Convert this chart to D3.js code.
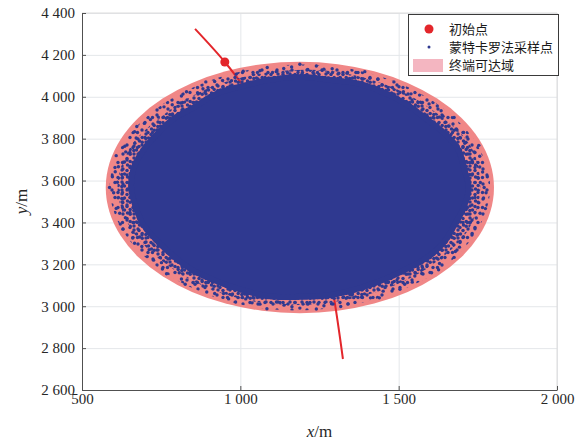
<!DOCTYPE html>
<html>
<head>
<meta charset="utf-8">
<script src="https://cdn.jsdelivr.net/npm/d3@7/dist/d3.min.js"></script>
<style>
  body { margin: 0; background: #fff; }
  svg text { font-family: "Liberation Serif", "Times New Roman", serif; }
</style>
</head>
<body>
<div id="chart"></div>
<script>
// axis ticks
var xTicks = [500, 1000, 1500, 2000]
var xTickLabels = ["500", "1 000", "1 500", "2 000"]
var yTicks = [2600, 2800, 3000, 3200, 3400, 3600, 3800, 4000, 4200, 4400]
var yTickLabels = ["2 600", "2 800", "3 000", "3 200", "3 400", "3 600", "3 800", "4 000", "4 200", "4 400"]

// terminal reachable region (ellipse), metres
var reachCenter = [1188, 3567]
var reachSemiAxes = [613, 600]

// initial point and nominal trajectory (visible parts)
var initPoint = [951, 4166]
var trajectory = [[857, 4324], [951, 4166], [1020, 4030], [1289, 3100], [1300, 3000], [1324, 2748]]

// Monte Carlo cloud: outer reach of scattered samples, sparse band, dense core
var cloudOuter = [
  [1789, 3567], [1750, 3767], [1644, 3941], [1487, 4074], [1292, 4146], [1084, 4143],
  [891, 4071], [733, 3941], [626, 3767], [587, 3567], [626, 3367], [732, 3193],
  [889, 3060], [1084, 2988], [1292, 2991], [1485, 3063], [1646, 3191], [1750, 3367]
]
var cloudMid = [
  [1758, 3567], [1729, 3760], [1620, 3922], [1473, 4050], [1288, 4122], [1089, 4117],
  [906, 4045], [761, 3918], [652, 3758], [612, 3567], [652, 3376], [756, 3212],
  [903, 3084], [1088, 3012], [1287, 3018], [1470, 3089], [1620, 3212], [1724, 3376]
]
var cloudCore = [
  [1721, 3567], [1707, 3657], [1689, 3746], [1645, 3825], [1587, 3895], [1527, 3962],
  [1455, 4019], [1372, 4063], [1281, 4081], [1188, 4095], [1095, 4081], [1008, 4052],
  [924, 4014], [857, 3953], [789, 3895], [737, 3822], [693, 3744], [663, 3658],
  [655, 3567], [669, 3477], [693, 3391], [737, 3312], [789, 3239], [849, 3172],
  [924, 3120], [1006, 3077], [1094, 3047], [1188, 3045], [1281, 3053], [1368, 3082],
  [1449, 3125], [1523, 3176], [1592, 3235], [1645, 3309], [1678, 3393], [1707, 3477]
]

// loose samples near the edge of the cloud
var edgeSamples = [
  [1770, 3567], [1780, 3618], [1756, 3665], [1756, 3716], [1753, 3768], [1716, 3808],
  [1682, 3846], [1675, 3901], [1634, 3933], [1596, 3966], [1566, 4008], [1515, 4024],
  [1485, 4071], [1434, 4084], [1393, 4120], [1337, 4112], [1290, 4134], [1240, 4147],
  [1188, 4155], [1137, 4135], [1085, 4140], [1041, 4106], [987, 4108], [944, 4078],
  [891, 4071], [865, 4019], [814, 4004], [785, 3962], [737, 3937], [716, 3891],
  [673, 3858], [671, 3803], [635, 3764], [608, 3719], [615, 3666], [596, 3618],
  [587, 3567], [614, 3518], [608, 3467], [637, 3423], [629, 3368], [660, 3326],
  [689, 3285], [706, 3237], [751, 3208], [767, 3155], [814, 3130], [857, 3105],
  [894, 3068], [947, 3061], [985, 3020], [1037, 3016], [1084, 2988], [1138, 3005],
  [1188, 2991], [1240, 2987], [1288, 3012], [1340, 3011], [1383, 3043], [1439, 3040],
  [1479, 3073], [1519, 3105], [1551, 3144], [1604, 3160], [1629, 3204], [1675, 3233],
  [1692, 3282], [1705, 3331], [1741, 3370], [1745, 3421], [1774, 3466], [1768, 3517],
  [1758, 3591], [1765, 3641], [1733, 3685], [1738, 3737], [1709, 3778], [1705, 3830],
  [1659, 3860], [1640, 3907], [1622, 3956], [1569, 3974], [1539, 4014], [1501, 4048],
  [1448, 4057], [1409, 4088], [1365, 4116], [1311, 4112], [1264, 4132], [1213, 4130],
  [1162, 4142], [1114, 4120], [1062, 4124], [1009, 4122], [972, 4077], [919, 4073],
  [882, 4038], [830, 4024], [811, 3970], [759, 3952], [741, 3903], [697, 3873],
  [666, 3833], [667, 3778], [638, 3737], [631, 3688], [605, 3642], [612, 3592],
  [600, 3542], [629, 3495], [619, 3444], [621, 3392], [661, 3353], [666, 3301],
  [712, 3270], [726, 3220], [754, 3178], [807, 3160], [826, 3105], [882, 3096],
  [919, 3061], [963, 3035], [1017, 3035], [1062, 3010], [1114, 3020], [1163, 2998],
  [1213, 3010], [1264, 3002], [1317, 2999], [1358, 3041], [1411, 3040], [1451, 3072],
  [1504, 3081], [1543, 3115], [1573, 3156], [1626, 3174], [1635, 3231], [1679, 3261],
  [1694, 3309], [1732, 3347], [1726, 3401], [1757, 3444], [1753, 3494], [1776, 3542]
]

var legendNames = ["初始点", "蒙特卡罗法采样点", "终端可达域"]

var W = 588, H = 444
var padL = 82, padR = 557, padT = 13, padB = 390
var blue = "#2f3990", pink = "#f08787", red = "#e3262b"

var svg = d3.select("#chart").append("svg").attr("width", W).attr("height", H)
var x = d3.scaleLinear().domain([500, 2000]).range([padL, padR])
var y = d3.scaleLinear().domain([2600, 4400]).range([padB, padT])

// dot textures for the scattered parts of the cloud
var defs = svg.append("defs")
var dense = defs.append("pattern").attr("id", "dense").attr("patternUnits", "userSpaceOnUse")
  .attr("width", 12).attr("height", 12)
var denseDots = [[2, 2], [7, 2.5], [10.2, 5.5], [4.5, 6], [2, 10], [7.5, 9], [10.2, 10.2], [1.8, 6.5]]
denseDots.forEach(function(p){
  dense.append("circle").attr("cx", p[0]).attr("cy", p[1]).attr("r", 1.75).attr("fill", blue)
})
var sparse = defs.append("pattern").attr("id", "sparse").attr("patternUnits", "userSpaceOnUse")
  .attr("width", 15).attr("height", 15)
var sparseDots = [[3, 4], [10, 2.5], [7, 10], [13, 12.5], [2.5, 12.5]]
sparseDots.forEach(function(p){
  sparse.append("circle").attr("cx", p[0]).attr("cy", p[1]).attr("r", 1.7).attr("fill", blue)
})

// grid
svg.append("g").attr("transform", "translate(0," + padB + ")")
  .call(d3.axisBottom(x).tickValues(xTicks).tickSize(-(padB - padT)).tickFormat(""))
  .call(function(g){ g.select(".domain").remove() })
  .selectAll("line").attr("stroke", "#e4e7ea").attr("stroke-width", 1)
svg.append("g").attr("transform", "translate(" + padL + ",0)")
  .call(d3.axisLeft(y).tickValues(yTicks).tickSize(-(padR - padL)).tickFormat(""))
  .call(function(g){ g.select(".domain").remove() })
  .selectAll("line").attr("stroke", "#e4e7ea").attr("stroke-width", 1)

// light box on top / right
svg.append("line").attr("x1", padL).attr("x2", padR).attr("y1", padT).attr("y2", padT).attr("stroke", "#dcdcdc")
svg.append("line").attr("x1", padR).attr("x2", padR).attr("y1", padT).attr("y2", padB).attr("stroke", "#dcdcdc")

// reachable region
svg.append("ellipse")
  .attr("cx", x(reachCenter[0])).attr("cy", y(reachCenter[1]))
  .attr("rx", x(reachCenter[0] + reachSemiAxes[0]) - x(reachCenter[0]))
  .attr("ry", y(reachCenter[1]) - y(reachCenter[1] + reachSemiAxes[1]))
  .attr("fill", pink)

// trajectory
var trajLine = d3.line().x(function(d){ return x(d[0]) }).y(function(d){ return y(d[1]) }).curve(d3.curveMonotoneY)
svg.append("path").datum(trajectory).attr("d", trajLine)
  .attr("fill", "none").attr("stroke", red).attr("stroke-width", 2)

// Monte Carlo cloud
var cloudLine = d3.line().x(function(d){ return x(d[0]) }).y(function(d){ return y(d[1]) }).curve(d3.curveCatmullRomClosed)
svg.append("path").datum(cloudOuter).attr("d", cloudLine).attr("fill", "url(#sparse)")
svg.append("path").datum(cloudMid).attr("d", cloudLine).attr("fill", "url(#dense)")
svg.append("path").datum(cloudCore).attr("d", cloudLine)
  .attr("fill", blue).attr("stroke", blue).attr("stroke-width", 6)
  .attr("stroke-dasharray", "2 2.5").attr("stroke-linecap", "round")
svg.append("g").selectAll("circle").data(edgeSamples).enter().append("circle")
  .attr("cx", function(d){ return x(d[0]) }).attr("cy", function(d){ return y(d[1]) })
  .attr("r", 1.7).attr("fill", blue)

// initial point
svg.append("circle").attr("cx", x(initPoint[0])).attr("cy", y(initPoint[1])).attr("r", 4.5).attr("fill", red)

// axes
svg.append("g").attr("transform", "translate(0," + padB + ")")
  .call(d3.axisBottom(x).tickValues(xTicks).tickSizeInner(-4).tickSizeOuter(0).tickPadding(3)
    .tickFormat(function(d, i){ return xTickLabels[i] }))
svg.append("g").attr("transform", "translate(" + padL + ",0)")
  .call(d3.axisLeft(y).tickValues(yTicks).tickSizeInner(-4).tickSizeOuter(0).tickPadding(7)
    .tickFormat(function(d, i){ return yTickLabels[i] }))
svg.selectAll(".domain").attr("stroke", "#505050")
svg.selectAll(".tick line").filter(function(){ return this.getAttribute("stroke") === "currentColor" }).attr("stroke", "#505050")
svg.selectAll(".tick text").attr("font-size", 15).attr("fill", "#262626")
  .style("font-family", "'Liberation Serif', serif")

// axis titles
var xt = svg.append("text").attr("x", (padL + padR) / 2).attr("y", 437).attr("text-anchor", "middle")
  .attr("font-size", 17).attr("fill", "#262626")
xt.append("tspan").attr("font-style", "italic").text("x")
xt.append("tspan").text("/m")
var yt = svg.append("text").attr("transform", "translate(27," + ((padT + padB) / 2) + ") rotate(-90)")
  .attr("text-anchor", "middle").attr("font-size", 17).attr("fill", "#262626")
yt.append("tspan").attr("font-style", "italic").text("y")
yt.append("tspan").text("/m")

// legend
var lg = svg.append("g")
lg.append("rect").attr("x", 408.5).attr("y", 14.5).attr("width", 150).attr("height", 61)
  .attr("fill", "#fff").attr("stroke", "#3a3a3a").attr("stroke-width", 1)
lg.append("circle").attr("cx", 429).attr("cy", 29).attr("r", 4.5).attr("fill", red)
lg.append("circle").attr("cx", 429).attr("cy", 47).attr("r", 1.5).attr("fill", blue)
lg.append("rect").attr("x", 413).attr("y", 59).attr("width", 30).attr("height", 13).attr("fill", "#f4b6c1")
lg.selectAll("text.lt").data(legendNames).enter().append("text")
  .attr("x", 449).attr("y", function(d, i){ return 29 + i * 18 }).attr("dy", "0.36em")
  .attr("font-size", 13).attr("fill", "#1a1a1a")
  .style("font-family", "'Noto Sans CJK SC', sans-serif")
  .text(function(d){ return d })
</script>
</body>
</html>
